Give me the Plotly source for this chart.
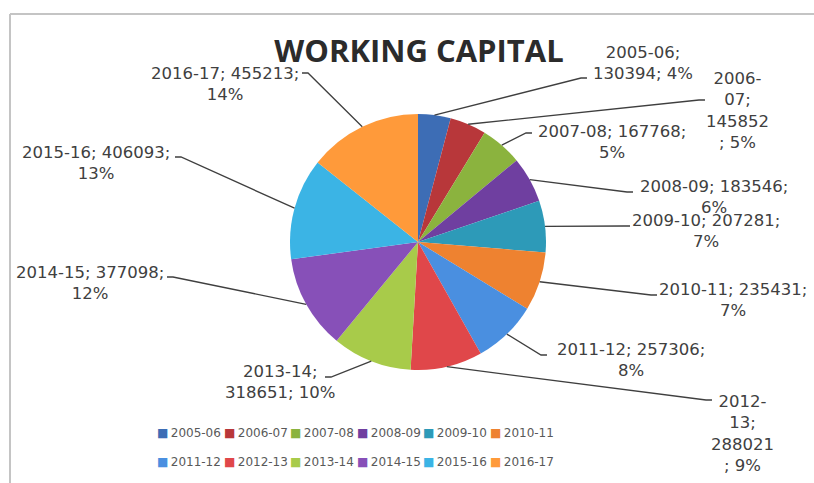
import math
import plotly.graph_objects as go

W, H = 814, 483

# Working capital by financial year
periods = ["2005-06", "2006-07", "2007-08", "2008-09", "2009-10", "2010-11",
           "2011-12", "2012-13", "2013-14", "2014-15", "2015-16", "2016-17"]
working_capital = [130394, 145852, 167768, 183546, 207281, 235431,
                   257306, 288021, 318651, 377098, 406093, 455213]
slice_colors = ["#3D6DB5", "#B8373A", "#8BB33E", "#6F3FA0", "#2D9AB8", "#EE8230",
                "#4A8FE0", "#E0474A", "#A8CB4A", "#8750B8", "#3BB4E5", "#FF9A3A"]

# Pie placement (pixels)
CX, CY, R = 418, 242, 128

# Data-label layout: line wrapping, block centre and leader end (pixels)
label_wrap = ["{c};<br>{v}; {p}%", "{c0}-<br>{c1};<br>{v}<br>; {p}%", "{c}; {v};<br>{p}%",
              "{c}; {v};<br>{p}%", "{c}; {v};<br>{p}%", "{c}; {v};<br>{p}%",
              "{c}; {v};<br>{p}%", "{c0}-<br>{c1};<br>{v}<br>; {p}%", "{c};<br>{v}; {p}%",
              "{c}; {v};<br>{p}%", "{c}; {v};<br>{p}%", "{c}; {v};<br>{p}%"]
label_centers = [(643, 63), (737, 110), (612, 142), (714, 197), (706, 231), (733, 300),
                 (631, 360), (742, 433), (280, 382), (90, 283), (96, 163), (225, 84)]
leader_ends = [(587, 78), (705, 100), (532, 133), (633, 192), (630, 226), (657, 295),
               (547, 355), (712, 400), (325, 377), (167, 277), (175, 157), (302, 73)]


def px_x(x):
    return x / W


def px_y(y):
    return 1 - y / H


total = sum(working_capital)

fig = go.Figure()
fig.add_trace(go.Pie(
    labels=periods,
    values=working_capital,
    marker=dict(colors=slice_colors, line=dict(width=0)),
    sort=False,
    direction="clockwise",
    rotation=0,
    textinfo="none",
    showlegend=False,
    domain=dict(x=[px_x(CX - R), px_x(CX + R)], y=[px_y(CY + R), px_y(CY - R)]),
))

shapes = [
    # chart-area frame (top and left edges)
    dict(type="line", xref="paper", yref="paper", x0=px_x(10), x1=1, y0=px_y(14), y1=px_y(14),
         line=dict(color="#C4C4C4", width=2)),
    dict(type="line", xref="paper", yref="paper", x0=px_x(10), x1=px_x(10), y0=px_y(14), y1=0,
         line=dict(color="#C4C4C4", width=2)),
]
annotations = []

cum = 0.0
for i, (c, v) in enumerate(zip(periods, working_capital)):
    frac = v / total
    mid = (cum + frac / 2) * 2 * math.pi
    cum += frac
    ex = CX + R * math.sin(mid)
    ey = CY - R * math.cos(mid)
    ax, ay = leader_ends[i]
    stub = 6 if ax > CX else -6
    path = "M {:.5f},{:.5f} L {:.5f},{:.5f} L {:.5f},{:.5f}".format(
        px_x(ex), px_y(ey), px_x(ax - stub), px_y(ay), px_x(ax), px_y(ay))
    shapes.append(dict(type="path", xref="paper", yref="paper", path=path,
                       line=dict(color="#3F3F3F", width=1.3)))
    pct = round(frac * 100)
    c0, c1 = c.split("-")
    text = label_wrap[i].format(c=c, c0=c0, c1=c1, v=v, p=pct)
    lx, ly = label_centers[i]
    annotations.append(dict(x=px_x(lx), y=px_y(ly), xref="paper", yref="paper",
                            text=text, showarrow=False, xanchor="center", yanchor="middle",
                            align="center",
                            font=dict(family="DejaVu Sans", size=16.5, color="#404040")))

# Legend: two rows of six entries
leg_x0, leg_dx = 155, 66.5
leg_rows = [433, 462]
for i, (c, col) in enumerate(zip(periods, slice_colors)):
    row, colpos = divmod(i, 6)
    annotations.append(dict(
        x=px_x(leg_x0 + colpos * leg_dx), y=px_y(leg_rows[row]), xref="paper", yref="paper",
        text="<span style='color:{}'>■</span>\u2009{}".format(col, c), showarrow=False,
        xanchor="left", yanchor="middle",
        font=dict(family="DejaVu Sans", size=12, color="#595959")))

fig.update_layout(
    width=W, height=H,
    margin=dict(l=0, r=0, t=0, b=0),
    paper_bgcolor="white",
    plot_bgcolor="white",
    title=dict(text="<b>WORKING CAPITAL</b>", x=px_x(419), y=px_y(51),
               xanchor="center", yanchor="middle",
               font=dict(family="Open Sans", size=31, color="#2B2B2B")),
    shapes=shapes,
    annotations=annotations,
)

fig.write_html("out.html")
